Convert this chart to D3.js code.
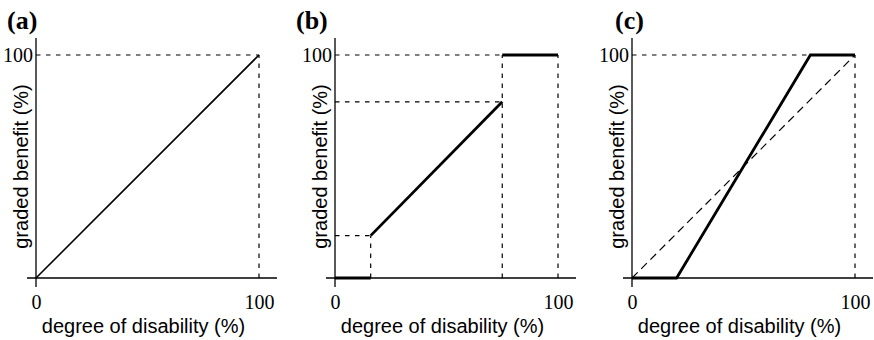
<!DOCTYPE html>
<html>
<head>
<meta charset="utf-8">
<script src="https://cdn.jsdelivr.net/npm/d3@7"></script>
<style>
  html, body { margin: 0; padding: 0; background: #fff; }
  svg { display: block; }
</style>
</head>
<body>
<svg id="chart" width="874" height="340"></svg>
<script>
// Benefit schemes: graded benefit (%) as a function of degree of disability (%)
const tickValuesX = [0, 100];
const tickValuesY = [100];
const panelLetters = ["(a)", "(b)", "(c)"];
const xTitle = "degree of disability (%)";
const yTitle = "graded benefit (%)";

// (a) proportional benefit
const aSolid = [[[0, 0], [100, 100]]];
const aGuides = [[[0, 100], [100, 100]], [[100, 0], [100, 100]]];

// (b) threshold scheme with a jump to full benefit
const bThick = [
  [[0, 0], [16, 0]],
  [[16, 19], [75, 79]],
  [[75, 100], [100, 100]]
];
const bGuides = [
  [[16, 0], [16, 19]],
  [[0, 19], [16, 19]],
  [[0, 79], [75, 79]],
  [[75, 0], [75, 100]],
  [[0, 100], [75, 100]],
  [[100, 0], [100, 100]]
];

// (c) steeper linear scheme between two thresholds
const cThick = [[[0, 0], [20, 0], [80, 100], [100, 100]]];
const cDiagonal = [[[0, 0], [100, 100]]];
const cGuides = [[[0, 100], [100, 100]], [[100, 0], [100, 100]]];

const panels = [
  { letter: panelLetters[0], left: 36, letterX: 7, thick: [], thin: aSolid, longDash: [], guides: aGuides },
  { letter: panelLetters[1], left: 335, letterX: 296, thick: bThick, thin: [], longDash: [], guides: bGuides },
  { letter: panelLetters[2], left: 632, letterX: 615, thick: cThick, thin: [], longDash: cDiagonal, guides: cGuides }
];

const plotW = 223, plotTop = 55, plotBottom = 278;
const svg = d3.select("#chart");
const serif = "'Liberation Serif', 'Times New Roman', serif";
const sans = "'Liberation Sans', Arial, Helvetica, sans-serif";

panels.forEach(p => {
  const x = d3.scaleLinear().domain([0, 100]).range([p.left, p.left + plotW]);
  const y = d3.scaleLinear().domain([0, 100]).range([plotBottom, plotTop]);
  const g = svg.append("g");
  const line = d3.line().x(d => x(d[0])).y(d => y(d[1]));

  // dashed guides
  g.selectAll(".guide").data(p.guides).join("path")
    .attr("class", "guide")
    .attr("d", line).attr("fill", "none")
    .attr("stroke", "#000").attr("stroke-width", 1.2)
    .attr("stroke-dasharray", "4.5,5.5");

  g.selectAll(".long").data(p.longDash).join("path")
    .attr("class", "long")
    .attr("d", line).attr("fill", "none")
    .attr("stroke", "#000").attr("stroke-width", 1.2)
    .attr("stroke-dasharray", "8,5");

  // axis lines, extended past the plotted range
  g.append("line")
    .attr("x1", x(0)).attr("x2", x(0))
    .attr("y1", y(100) - 17).attr("y2", y(0) + 9)
    .attr("stroke", "#000").attr("stroke-width", 1.3);
  g.append("line")
    .attr("x1", x(0) - 9).attr("x2", x(100) + 18)
    .attr("y1", y(0)).attr("y2", y(0))
    .attr("stroke", "#000").attr("stroke-width", 1.3);

  g.selectAll(".thin").data(p.thin).join("path")
    .attr("class", "thin")
    .attr("d", line).attr("fill", "none")
    .attr("stroke", "#000").attr("stroke-width", 1.6);

  g.selectAll(".thick").data(p.thick).join("path")
    .attr("class", "thick")
    .attr("d", line).attr("fill", "none")
    .attr("stroke", "#000").attr("stroke-width", 2.8)
    .attr("stroke-linejoin", "miter");

  // tick labels
  const ax = g.append("g").attr("transform", `translate(0,${y(0)})`)
    .call(d3.axisBottom(x).tickValues(tickValuesX).tickSize(0).tickPadding(17));
  const ay = g.append("g").attr("transform", `translate(${x(0)},0)`)
    .call(d3.axisLeft(y).tickValues(tickValuesY).tickSize(0).tickPadding(3));
  [ax, ay].forEach(a => {
    a.select(".domain").remove();
    a.selectAll("text").attr("font-family", serif).attr("font-size", 20).attr("fill", "#000");
  });

  // axis titles
  g.append("text")
    .attr("x", (x(0) + x(100)) / 2 - 4).attr("y", 333)
    .attr("text-anchor", "middle")
    .attr("font-family", sans).attr("font-size", 20)
    .text(xTitle);
  g.append("text")
    .attr("transform", `translate(${x(0) - 14},${(y(0) + y(100)) / 2}) rotate(-90)`)
    .attr("text-anchor", "middle").attr("dy", "0.32em")
    .attr("font-family", sans).attr("font-size", 20)
    .text(yTitle);

  // panel letter
  g.append("text")
    .attr("x", p.letterX).attr("y", 29)
    .attr("font-family", serif).attr("font-weight", "bold").attr("font-size", 26)
    .text(p.letter);
});
</script>
</body>
</html>
